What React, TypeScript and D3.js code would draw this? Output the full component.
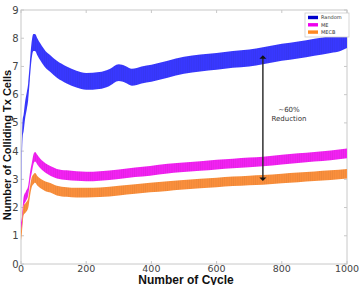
import React from "react";
import * as d3 from "d3";

const W = 359;
const H = 285;

const randomCycles = [0, 2, 5, 8, 12, 18, 22, 27, 32, 38, 43, 50, 60, 75, 90, 110, 140, 170, 200, 240, 270, 300, 320, 340, 370, 400, 450, 500, 550, 600, 650, 700, 742, 800, 850, 900, 950, 980, 1000];
const randomValues = [2.0, 3.6, 4.8, 5.0, 5.4, 5.8, 6.1, 6.8, 7.5, 7.85, 7.85, 7.7, 7.5, 7.25, 7.1, 6.9, 6.7, 6.55, 6.47, 6.5, 6.6, 6.78, 6.72, 6.62, 6.7, 6.76, 6.9, 7.04, 7.12, 7.18, 7.25, 7.3, 7.38, 7.5, 7.58, 7.68, 7.78, 7.85, 7.95];

const meCycles = [0, 3, 8, 15, 22, 28, 33, 38, 43, 50, 60, 75, 90, 110, 140, 170, 200, 242, 300, 350, 396, 450, 488, 550, 600, 650, 700, 742, 800, 850, 900, 950, 1000];
const meValues = [1.3, 1.5, 2.2, 2.4, 2.6, 3.1, 3.4, 3.7, 3.8, 3.7, 3.55, 3.4, 3.3, 3.2, 3.15, 3.12, 3.1, 3.12, 3.18, 3.25, 3.3, 3.38, 3.42, 3.47, 3.52, 3.56, 3.6, 3.63, 3.7, 3.75, 3.8, 3.85, 3.92];

const mecbCycles = [0, 3, 8, 15, 22, 28, 33, 38, 43, 50, 60, 75, 90, 110, 140, 170, 200, 242, 300, 350, 396, 450, 488, 550, 600, 650, 700, 742, 800, 850, 900, 950, 1000];
const mecbValues = [1.0, 1.3, 1.9, 2.0, 2.15, 2.6, 2.9, 3.0, 3.05, 2.95, 2.85, 2.75, 2.7, 2.6, 2.55, 2.53, 2.53, 2.54, 2.6, 2.66, 2.71, 2.76, 2.8, 2.85, 2.89, 2.93, 2.96, 2.98, 3.03, 3.07, 3.11, 3.15, 3.2];

const seriesNames = ["Random", "ME", "MECB"];
const seriesColors = ["#3838ff", "#f222f2", "#fa8f3c"];
const legendColors = ["#0000cc", "#ee00ee", "#ff8822"];
const seriesSpread = [0.3, 0.17, 0.17];

const xTicks = [0, 200, 400, 600, 800, 1000];
const yTicks = [0, 1, 2, 3, 4, 5, 6, 7, 8, 9];

const annotCycle = 742;
const annotTop = 7.36;
const annotBottom = 2.98;
const annotLines = ["~60%", "Reduction"];

export default function App() {
  const left = 21, right = 347, top = 10, bottom = 264;
  const x = d3.scaleLinear().domain([0, 1000]).range([left, right]);
  const y = d3.scaleLinear().domain([0, 9]).range([bottom, top]);

  const series = [
    { cycles: randomCycles, values: randomValues },
    { cycles: meCycles, values: meValues },
    { cycles: mecbCycles, values: mecbValues },
  ];

  const areas = series.map((s, i) => {
    const pts = s.cycles.map((c, j) => [c, s.values[j]] as [number, number]);
    const area = d3
      .area<[number, number]>()
      .x((d) => x(d[0]))
      .y0((d) => y(d[1] - seriesSpread[i]))
      .y1((d) => y(d[1] + seriesSpread[i]))
      .curve(d3.curveMonotoneX);
    return area(pts) || "";
  });

  const font = "'DejaVu Sans', sans-serif";
  const boldFont = "'Liberation Sans', Arial, sans-serif";
  const ax = x(annotCycle);

  return (
    <svg
      width={W}
      height={H}
      style={{ position: "absolute", left: 0, top: 0, background: "#fff" }}
    >
      <defs>
        {seriesColors.map((c, i) => (
          <pattern key={i} id={`stripe${i}`} width={2.2} height={4} patternUnits="userSpaceOnUse">
            <rect width={2.2} height={4} fill={c} />
            <rect width={0.5} height={4} fill={d3.color(c)!.darker(0.5).toString()} opacity={0.5} />
          </pattern>
        ))}
      </defs>
      {/* frame */}
      <rect x={left} y={top} width={right - left} height={bottom - top} fill="none" stroke="#c8c8c8" strokeWidth={1} />
      {/* ticks */}
      {xTicks.map((t) => (
        <g key={"xt" + t}>
          <line x1={x(t)} x2={x(t)} y1={bottom} y2={bottom - 3} stroke="#c8c8c8" />
          <line x1={x(t)} x2={x(t)} y1={top} y2={top + 3} stroke="#c8c8c8" />
          <text x={x(t)} y={272} textAnchor="middle" fontFamily={font} fontSize={9.5} fill="#444">
            {t}
          </text>
        </g>
      ))}
      {yTicks.map((t) => (
        <g key={"yt" + t}>
          <line x1={left} x2={left + 3} y1={y(t)} y2={y(t)} stroke="#c8c8c8" />
          <line x1={right} x2={right - 3} y1={y(t)} y2={y(t)} stroke="#c8c8c8" />
          <text x={18.5} y={y(t) + 3.5} textAnchor="end" fontFamily={font} fontSize={10} fill="#444">
            {t}
          </text>
        </g>
      ))}
      {/* bands */}
      {areas.map((p, i) => (
        <path key={i} d={p} fill={`url(#stripe${i})`} />
      ))}
      {/* annotation */}
      <line x1={ax} x2={ax} y1={y(annotTop) + 2} y2={y(annotBottom) - 2} stroke="#222" strokeWidth={1.4} />
      <path d={`M${ax - 3.5},${y(annotTop) + 2.5} L${ax + 3.5},${y(annotTop) + 2.5} L${ax},${y(annotTop) - 1} Z`} fill="#111" />
      <path d={`M${ax - 3.5},${y(annotBottom) - 2.5} L${ax + 3.5},${y(annotBottom) - 2.5} L${ax},${y(annotBottom) + 1} Z`} fill="#111" />
      {annotLines.map((l, i) => (
        <text key={l} x={289} y={112 + i * 9} textAnchor="middle" fontFamily={font} fontSize={7} fill="#333">
          {l}
        </text>
      ))}
      {/* legend */}
      <rect x={305} y={13} width={44} height={24} fill="#fff" stroke="#ccc" strokeWidth={0.8} />
      {seriesNames.map((n, i) => (
        <g key={n}>
          <rect x={308} y={15.8 + i * 7.3} width={10} height={3.4} fill={legendColors[i]} />
          <text x={321} y={19.3 + i * 7.3} fontFamily={font} fontSize={5} fill="#333">
            {n}
          </text>
        </g>
      ))}
      {/* axis titles */}
      <text
        transform={`translate(10.5,${145}) rotate(-90)`}
        textAnchor="middle"
        fontFamily={boldFont}
        fontWeight="bold"
        fontSize={11}
        fill="#111"
      >
        Number of Colliding Tx Cells
      </text>
      <text x={186} y={283.5} textAnchor="middle" fontFamily={boldFont} fontWeight="bold" fontSize={12} fill="#111">
        Number of Cycle
      </text>
    </svg>
  );
}
